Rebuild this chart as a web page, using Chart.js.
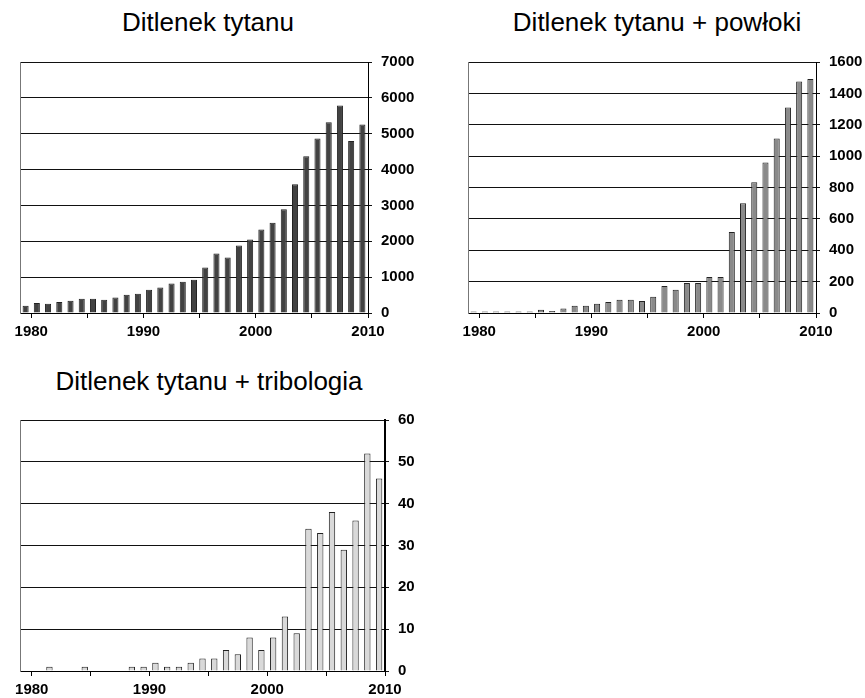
<!DOCTYPE html>
<html>
<head>
  <meta charset="UTF-8">
  <title>Ditlenek tytanu</title>
  <script src="https://cdn.jsdelivr.net/npm/chart.js"></script>
  <style>
    body { margin: 0; background: #fff; font-family: "Liberation Sans", Arial, sans-serif; }
    .box { position: absolute; }
    .tytul { position: absolute; font-size: 26px; color: #000; white-space: nowrap; transform: translateX(-50%); }
  </style>
</head>
<body>

<div class="tytul" style="left:208px;top:7px">Ditlenek tytanu</div>
<div class="tytul" style="left:657px;top:7px">Ditlenek tytanu + powłoki</div>
<div class="tytul" style="left:209px;top:366px">Ditlenek tytanu + tribologia</div>

<div class="box" style="left:0;top:40px"><canvas id="c1" width="432" height="305"></canvas></div>
<div class="box" style="left:432px;top:40px"><canvas id="c2" width="433" height="305"></canvas></div>
<div class="box" style="left:0;top:398px"><canvas id="c3" width="432" height="300"></canvas></div>

<script>
  // lata 1980 - 2010
  var lata = []
  for (var r = 1980; r <= 2010; r++) lata.push(r)

  var tytan = [200, 280, 260, 310, 345, 400, 400, 370, 430, 510,
               540, 650, 710, 820, 875, 930, 1270, 1660, 1550, 1880,
               2050, 2330, 2520, 2890, 3590, 4370, 4870, 5320, 5790, 4800, 5260]

  var powloki = [10, 10, 9, 9, 9, 9, 20, 12, 28, 47,
                 47, 59, 70, 85, 85, 76, 104, 172, 148, 191,
                 191, 229, 229, 517, 699, 833, 960, 1112, 1310, 1475, 1492]

  var tribologia = [0, 0, 1, 0, 0, 1, 0, 0, 0, 1,
                    1, 2, 1, 1, 2, 3, 3, 5, 4, 8,
                    5, 8, 13, 9, 34, 33, 38, 29, 36, 52, 46]

  var osX = [1980, 1985, 1990, 1995, 2000, 2005, 2010]

  var czcionka = 'Arial, "Liberation Sans", sans-serif'

  function wykres(id, dane, kolor, maxY, krok, pad, szerY, wysX, grubOsi) {
    return new Chart(document.getElementById(id), {
      type: 'bar',
      data: {
        labels: lata,
        datasets: [{
          data: dane,
          backgroundColor: kolor,
          borderColor: '#222',
          borderWidth: 1,
          barPercentage: 0.54,
          categoryPercentage: 1
        }]
      },
      options: {
        responsive: false,
        animation: false,
        layout: { padding: pad },
        plugins: { legend: { display: false }, tooltip: { enabled: false } },
        scales: {
          x: { type: 'category', display: false, offset: true },
          x2: {
            type: 'linear',
            position: 'bottom',
            min: 1979,
            max: 2010,
            offset: false,
            afterBuildTicks: function (s) {
              s.ticks = osX.map(function (v) { return { value: v } })
            },
            afterFit: function (s) { s.height = wysX },
            grid: { offset: false, drawOnChartArea: false, drawTicks: true, tickLength: 5, color: '#000' },
            border: { display: true, color: '#000', width: 1 },
            ticks: {
              padding: 5,
              color: '#000',
              maxRotation: 0,
              autoSkip: false,
              font: { family: czcionka, size: 15, weight: 700 },
              callback: function (v) { return v % 10 === 0 ? String(v) : '' }
            }
          },
          yl: {
            type: 'linear',
            position: 'left',
            min: 0,
            max: maxY,
            afterFit: function (s) { s.width = 0 },
            grid: { drawOnChartArea: false, drawTicks: false },
            border: { display: true, color: '#777', width: 1 },
            ticks: { display: false }
          },
          y: {
            position: 'right',
            min: 0,
            max: maxY,
            afterFit: function (s) { s.width = szerY },
            grid: { color: '#111', lineWidth: 1, drawTicks: true, tickLength: 4 },
            border: { display: true, color: '#000', width: grubOsi },
            ticks: {
              stepSize: krok,
              padding: 9,
              color: '#000',
              font: { family: czcionka, size: 15, weight: 700 },
              callback: function (v) { return String(v) }
            }
          }
        }
      }
    })
  }

  var ch1 = wykres('c1', tytan, '#424242', 7000, 1000, { left: 20, top: 22, right: 0, bottom: 0 }, 64, 32, 1)
  var ch2 = wykres('c2', powloki, '#8a8a8a', 1600, 200, { left: 36, top: 22, right: 0, bottom: 0 }, 49, 32, 1)
  var ch3 = wykres('c3', tribologia, '#d9d9d9', 60, 10, { left: 20, top: 22, right: 0, bottom: 0 }, 47, 27, 2)
</script>

</body>
</html>
